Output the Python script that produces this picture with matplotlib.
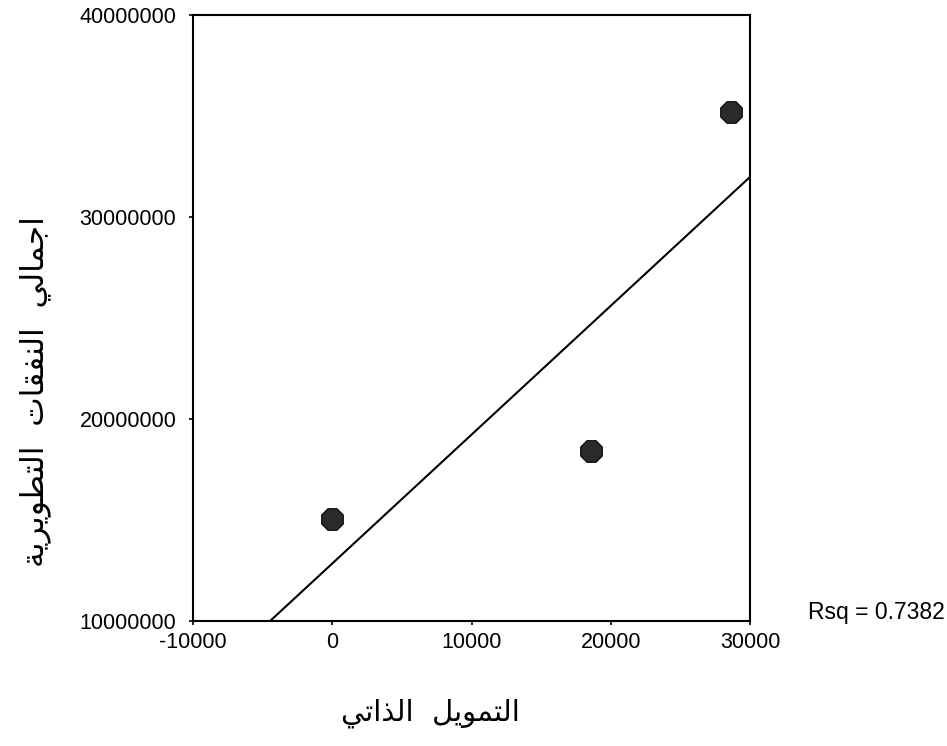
import numpy as np
import matplotlib
matplotlib.use('Agg')
import matplotlib.pyplot as plt

# Daten
eigenfinanzierung = [0, 18600, 28650]
ausgaben = [15050000, 18427000, 35200000]

x_ticks = [-10000, 0, 10000, 20000, 30000]
y_ticks = [10000000, 20000000, 30000000, 40000000]

x_titel = 'التمويل  الذاتي'
y_titel = 'اجمالي  النفقات  التطويرية'

# arabische Zeichen: (isoliert, final, initial, medial) - None = verbindet nicht nach links
FORMEN = {
    'ا': ('\uFE8D', '\uFE8E', None, None),
    'ج': ('\uFE9D', '\uFE9E', '\uFE9F', '\uFEA0'),
    'م': ('\uFEE1', '\uFEE2', '\uFEE3', '\uFEE4'),
    'ل': ('\uFEDD', '\uFEDE', '\uFEDF', '\uFEE0'),
    'ي': ('\uFEF1', '\uFEF2', '\uFEF3', '\uFEF4'),
    'ن': ('\uFEE5', '\uFEE6', '\uFEE7', '\uFEE8'),
    'ف': ('\uFED1', '\uFED2', '\uFED3', '\uFED4'),
    'ق': ('\uFED5', '\uFED6', '\uFED7', '\uFED8'),
    'ت': ('\uFE95', '\uFE96', '\uFE97', '\uFE98'),
    'ط': ('\uFEC1', '\uFEC2', '\uFEC3', '\uFEC4'),
    'و': ('\uFEED', '\uFEEE', None, None),
    'ر': ('\uFEAD', '\uFEAE', None, None),
    'ة': ('\uFE93', '\uFE94', None, None),
    'ذ': ('\uFEAB', '\uFEAC', None, None),
}


def shape(text):
    '''einfache Formung fuer arabischen Text, danach umdrehen (matplotlib zeichnet nur LTR)'''
    out = []
    for i, c in enumerate(text):
        if c not in FORMEN:
            out.append(c)
            continue
        prev = text[i - 1] if i > 0 else ' '
        nxt = text[i + 1] if i + 1 < len(text) else ' '
        links = prev in FORMEN and FORMEN[prev][2] is not None
        rechts = nxt in FORMEN and FORMEN[c][2] is not None
        iso, fin, ini, med = FORMEN[c]
        if links and rechts:
            out.append(med)
        elif links:
            out.append(fin)
        elif rechts:
            out.append(ini)
        else:
            out.append(iso)
    return ''.join(out)[::-1]


plt.rcParams['font.family'] = ['Liberation Sans', 'DejaVu Sans']

fig = plt.figure(figsize=(9.47, 7.46), dpi=100)
ax = fig.add_axes([193 / 947, 125 / 746, 557 / 947, 606 / 746])

ax.scatter(eigenfinanzierung, ausgaben, s=280, marker='8', color='#2a2a2a',
           edgecolor='#111111', linewidth=1, zorder=3, clip_on=False)

# Regressionsgerade
k, d = np.polyfit(eigenfinanzierung, ausgaben, 1)
xl = np.array([-10000, 30000])
ax.plot(xl, k * xl + d, color='black', linewidth=1.5)

r = np.corrcoef(eigenfinanzierung, ausgaben)[0, 1]

ax.set_xlim(-10000, 30000)
ax.set_ylim(10000000, 40000000)
ax.set_xticks(x_ticks)
ax.set_yticks(y_ticks)
ax.set_xticklabels([str(v) for v in x_ticks])
ax.set_yticklabels([str(v) for v in y_ticks])
ax.tick_params(direction='out', length=3, width=1.2, labelsize=15.5, pad=5)
ax.tick_params(axis='y', pad=9)
for s in ax.spines.values():
    s.set_linewidth(1.5)

fig.text(430 / 947, 1 - 713 / 746, shape(x_titel), family=['DejaVu Sans'],
         fontsize=21, ha='center', va='center')
fig.text(35 / 947, 1 - 392 / 746, shape(y_titel), family=['DejaVu Sans'],
         fontsize=22.5, ha='center', va='center', rotation=90)
fig.text(808 / 947, 1 - 612 / 746, 'Rsq = %.4f' % (r ** 2), fontsize=16.5,
         ha='left', va='center')

fig.savefig('out.png', dpi=100)
